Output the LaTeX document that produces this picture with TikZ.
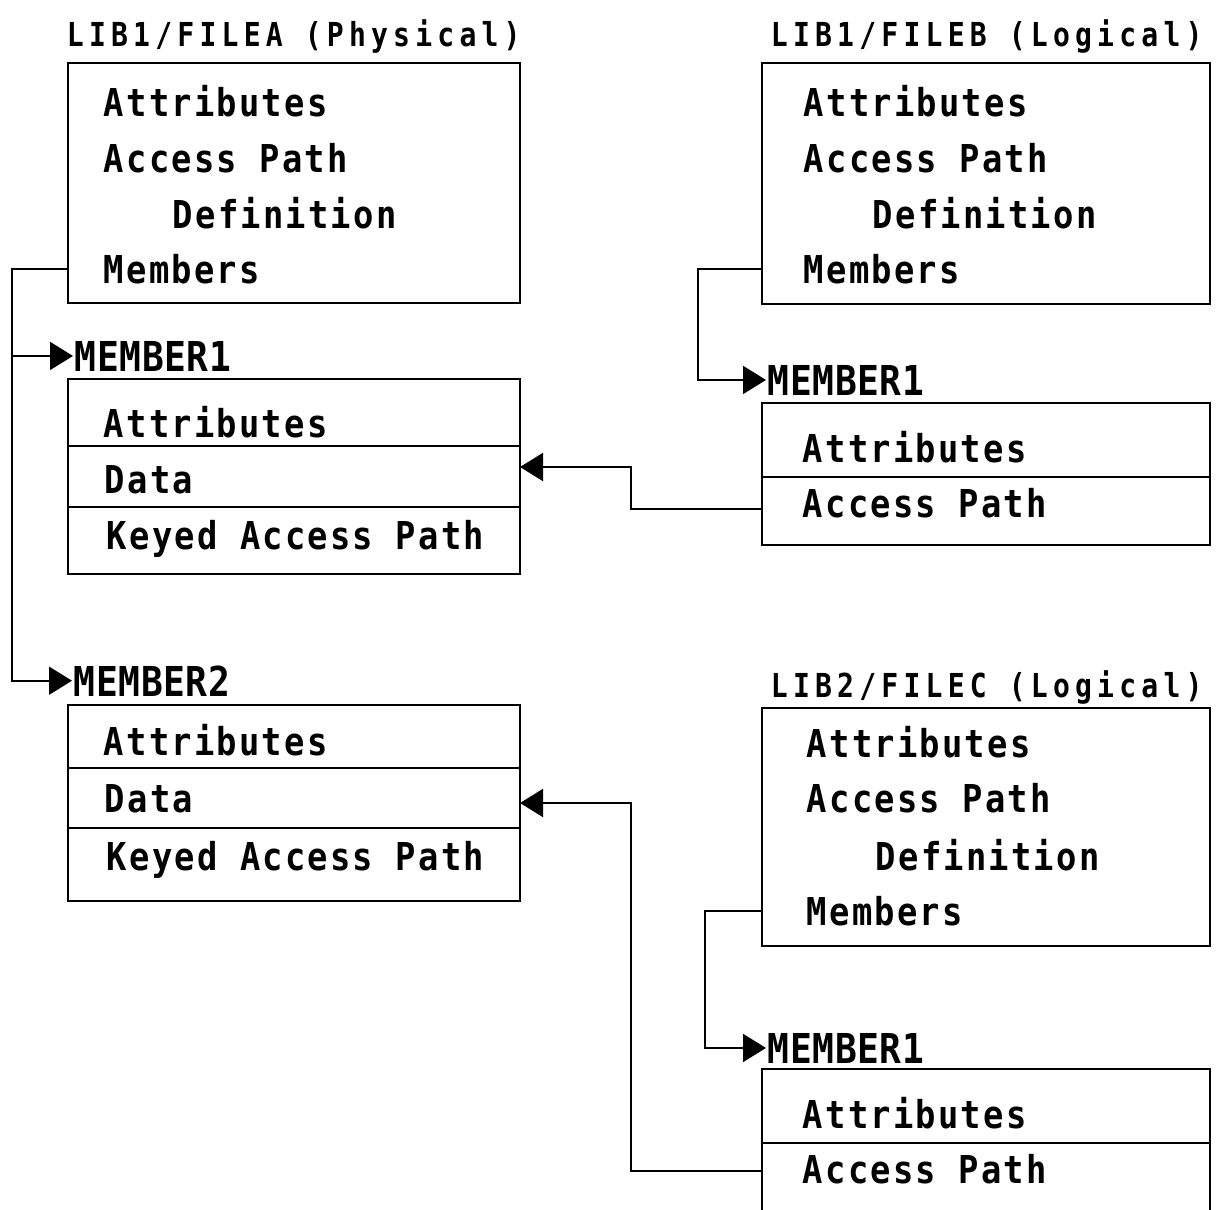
\documentclass[tikz,border=0pt]{standalone}
\usepackage{fontspec}
\newfontfamily\rowfont[FakeStretch=0.88,LetterSpace=5.8]{DejaVu Sans Mono}
\newfontfamily\headfont[FakeStretch=0.85,LetterSpace=15.8]{DejaVu Sans Mono}
\newfontfamily\tagfont[FakeStretch=0.88,LetterSpace=1.3]{DejaVu Sans Mono}
\usepackage{tikz}
\usetikzlibrary{positioning}
\usepgflibrary{arrows.meta}

\begin{document}
\begin{tikzpicture}[x=1pt,y=-1pt,line width=1.9pt,
    box/.style={draw,anchor=north west,inner sep=0pt,outer sep=0pt,minimum width=448pt},
    row/.style={anchor=base west,inner sep=0pt,font=\rowfont\bfseries\fontsize{38.4pt}{40pt}\selectfont},
    head/.style={anchor=base west,inner sep=0pt,font=\headfont\bfseries\fontsize{33pt}{35pt}\selectfont},
    tag/.style={anchor=base west,inner sep=1pt,font=\tagfont\bfseries\fontsize{41.2pt}{43pt}\selectfont},
    flow/.style={-{Triangle[length=23pt,width=28pt]}}]
  \useasboundingbox (0,0) rectangle (1217,1209);

  % LIB1/FILEA
  \node[head] (headA) at (66,47) {LIB1/FILEA (Physical)};
  \node[box,minimum width=452pt,minimum height=240pt] (fileA) at (68,63) {};
  \node[row] (attA) at (103,117) {Attributes};
  \node[row] (accA) at (103,173) {Access Path};
  \node[row] (defA) at (172,228) {Definition};
  \node[row] (memA) at (103,283) {Members};

  \node[tag] (tagA1) at (73,371) {MEMBER1};
  \node[box,minimum width=452pt,minimum height=195pt] (mA1) at (68,379) {};
  \draw (mA1.west |- 0,446) -- (mA1.east |- 0,446);
  \draw (mA1.west |- 0,507) -- (mA1.east |- 0,507);
  \node[row] at (103,437) {Attributes};
  \node[row] at (104,493) {Data};
  \node[row] at (106,549) {Keyed Access Path};

  \node[tag] (tagA2) at (72,696) {MEMBER2};
  \node[box,minimum width=452pt,minimum height=196pt] (mA2) at (68,705) {};
  \draw (mA2.west |- 0,768) -- (mA2.east |- 0,768);
  \draw (mA2.west |- 0,828) -- (mA2.east |- 0,828);
  \node[row] at (103,755) {Attributes};
  \node[row] at (104,812) {Data};
  \node[row] at (106,870) {Keyed Access Path};

  % LIB1/FILEB
  \node[head] (headB) at (770,47) {LIB1/FILEB (Logical)};
  \node[box,minimum height=241pt] (fileB) at (762,63) {};
  \node[row] (attB) at (803,117) {Attributes};
  \node[row] (accB) at (803,173) {Access Path};
  \node[row] (defB) at (872,228) {Definition};
  \node[row] (memB) at (803,283) {Members};

  \node[tag] (tagB1) at (766,395) {MEMBER1};
  \node[box,minimum height=142pt] (mB1) at (762,403) {};
  \draw (mB1.west |- 0,477) -- (mB1.east |- 0,477);
  \node[row] at (802,462) {Attributes};
  \node[row] at (802,517) {Access Path};

  % LIB2/FILEC
  \node[head] (headC) at (770,697) {LIB2/FILEC (Logical)};
  \node[box,minimum height=238pt] (fileC) at (762,708) {};
  \node[row] (attC) at (806,757) {Attributes};
  \node[row] (accC) at (806,812) {Access Path};
  \node[row] (defC) at (875,870) {Definition};
  \node[row] (memC) at (806,925) {Members};

  \node[tag] (tagC1) at (766,1063) {MEMBER1};
  \node[box,minimum height=170pt] (mC1) at (762,1069) {};
  \draw (mC1.west |- 0,1143) -- (mC1.east |- 0,1143);
  \node[row] at (802,1128) {Attributes};
  \node[row] at (802,1183) {Access Path};

  % connectors
  \coordinate (spineA) at (12,268);
  \draw[flow] (fileA.west |- memA.west) -- (spineA |- memA.west) |- (tagA2.west);
  \draw[flow] (spineA |- tagA1.west) -- (tagA1.west);

  \coordinate (spineB) at (698,270);
  \draw[flow] (fileB.west |- memB.west) -- (spineB |- memB.west) |- (tagB1.west);

  \coordinate (linkB) at (631,509);
  \draw[flow] (mB1.west |- linkB) -- (linkB) |- (mA1.east |- 0,467);

  \coordinate (spineC) at (705,910);
  \draw[flow] (fileC.west |- memC.west) -- (spineC |- memC.west) |- (tagC1.west);

  \coordinate (linkC) at (631,1171);
  \draw[flow] (mC1.west |- linkC) -- (linkC) |- (mA2.east |- 0,803);
\end{tikzpicture}
\end{document}
